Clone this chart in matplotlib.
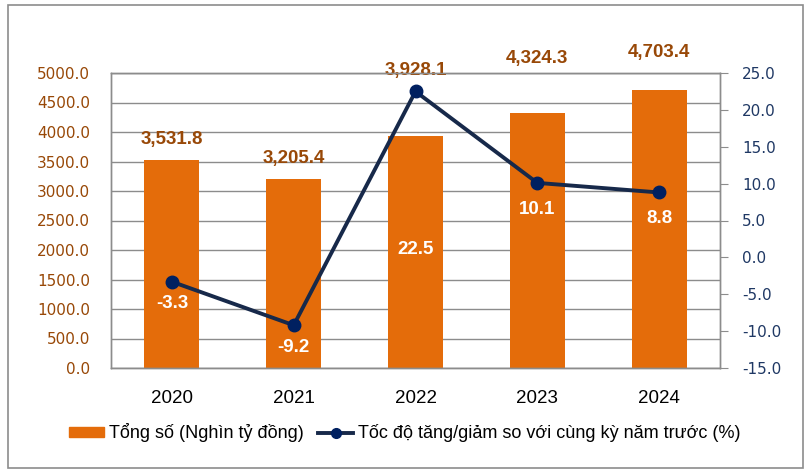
import matplotlib
matplotlib.use("Agg")
import matplotlib.pyplot as plt
from matplotlib.patches import Rectangle
from matplotlib.lines import Line2D
from matplotlib.patches import Patch

years = ["2020", "2021", "2022", "2023", "2024"]
totals = [3531.8, 3205.4, 3928.1, 4324.3, 4703.4]
growth = [-3.3, -9.2, 22.5, 10.1, 8.8]
total_labels = ["3,531.8", "3,205.4", "3,928.1", "4,324.3", "4,703.4"]
growth_labels = ["-3.3", "-9.2", "22.5", "10.1", "8.8"]
left_ticks = [0, 500, 1000, 1500, 2000, 2500, 3000, 3500, 4000, 4500, 5000]
right_ticks = [-15, -10, -5, 0, 5, 10, 15, 20, 25]
bar_name = "Tổng số (Nghìn tỷ đồng)"
line_name = "Tốc độ tăng/giảm so với cùng kỳ năm trước (%)"

# label offsets in points (style only)
bar_label_off = [14.5, 14.5, 47, 39, 27]
line_label_off = [-16, -16, -114, -19, -19]

BAR = "#E46C0A"
BROWN = "#984807"
NAVY_LINE = "#17294A"
NAVY_MK = "#002060"
GRID = "#8C8C8C"

plt.rcParams['font.family'] = ['Liberation Sans', 'DejaVu Sans']

fig = plt.figure(figsize=(8.1, 4.76), dpi=100)
fig.patches.append(Rectangle((8/810, 1-468/476), 795/810, 463/476, transform=fig.transFigure,
                             fill=False, edgecolor="#8C8C8C", linewidth=1.2))
ax = fig.add_axes([111/810, 1-368/476, 609/810, 295/476])
x = list(range(len(years)))
ax.bar(x, totals, width=0.45, color=BAR, zorder=2)
ax.set_xlim(-0.5, len(years) - 0.5)
ax.set_ylim(0, 5000)
ax.set_yticks(left_ticks)
ax.set_yticklabels([f"{v:.1f}" for v in left_ticks], fontfamily='DejaVu Sans', fontsize=11, color=BROWN)
ax.tick_params(axis='y', length=0, pad=15)
ax.set_xticks(x)
ax.set_xticklabels(years, fontsize=13.5, color='black')
ax.tick_params(axis='x', length=0, pad=16)
ax.yaxis.grid(True, color=GRID, linewidth=1.0, zorder=0)
ax.set_axisbelow(True)
for s in ax.spines.values():
    s.set_color(GRID)
    s.set_linewidth(1.0)

for xi, v, lab, off in zip(x, totals, total_labels, bar_label_off):
    ax.annotate(lab, (xi, v), xytext=(0, off), textcoords='offset points', ha='center', va='center',
                fontsize=13.5, fontweight='bold', color=BROWN, zorder=5)

ax2 = ax.twinx()
ax2.plot(x, growth, color=NAVY_LINE, linewidth=2.8, marker='o', markersize=9,
         markerfacecolor=NAVY_MK, markeredgecolor=NAVY_MK, zorder=4)
ax2.set_ylim(-15, 25)
ax2.set_yticks(right_ticks)
ax2.set_yticklabels([f"{v:.1f}" for v in right_ticks], fontfamily='DejaVu Sans', fontsize=11, color="#1F3864")
ax2.tick_params(axis='y', length=6, color=GRID, pad=10, direction='out')
for s in ax2.spines.values():
    s.set_color(GRID)
    s.set_linewidth(1.0)
for xi, v, lab, off in zip(x, growth, growth_labels, line_label_off):
    ax2.annotate(lab, (xi, v), xytext=(0, off), textcoords='offset points', ha='center', va='center',
                 fontsize=13.5, fontweight='bold', color='white', zorder=6)

handles = [Patch(facecolor=BAR, edgecolor=BAR),
           Line2D([0], [0], color=NAVY_LINE, linewidth=2.8, marker='o', markersize=7,
                  markerfacecolor=NAVY_MK, markeredgecolor=NAVY_MK)]
fig.legend(handles, [bar_name, line_name], loc='center', bbox_to_anchor=(405/810, 1-433/476),
           ncol=2, frameon=False, fontsize=13, handlelength=1.9, handleheight=0.5,
           columnspacing=0.8, handletextpad=0.3)

fig.savefig("out.png", dpi=100)
